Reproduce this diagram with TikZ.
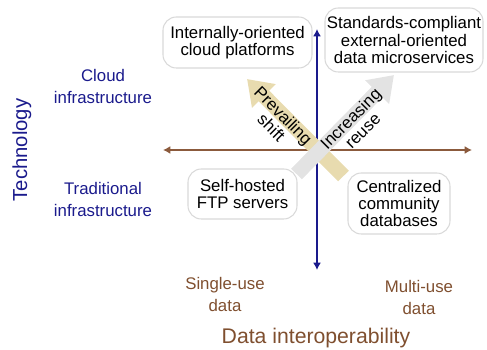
\documentclass[tikz,border=0pt]{standalone}
\usepackage{fontspec}
\setmainfont{Liberation Sans}
\usetikzlibrary{arrows.meta}

\definecolor{navyax}{HTML}{1A1A8C}
\definecolor{brownax}{HTML}{8B5A3C}
\definecolor{browntxt}{HTML}{7F4F2F}
\definecolor{tanfill}{HTML}{E8DBAF}
\definecolor{greyfill}{HTML}{E3E3E3}

\tikzset{
  quadbox/.style={draw=black!15, line width=0.8pt, fill=white, rounded corners=10pt,
    align=center, inner sep=0pt, font=\fontsize{12.6}{13}\selectfont},
  sidelabel/.style={align=center, text=navyax, font=\fontsize{12.6}{16.5}\selectfont},
  botlabel/.style={align=center, text=browntxt, font=\fontsize{12.6}{16.5}\selectfont},
  axisline/.style={line width=1.3pt, {Latex[length=5.5pt, width=6pt]}-{Latex[length=5.5pt, width=6pt]}},
  bigarrow/.style={line width=11.25pt, -{Triangle[length=18pt, width=24pt]}},
  arrowtext/.style={align=center, font=\fontsize{12.6}{12.75}\selectfont}
}

\begin{document}
\begin{tikzpicture}[x=0.75pt, y=0.75pt]
    \useasboundingbox (0,0) rectangle (487,350);
    % axes
    \coordinate (vtop) at (317,321);
    \coordinate (vbot) at (317,80);
    \coordinate (hleft) at (163,200);
    \coordinate (hright) at (472,200);
    \draw[axisline, brownax] (hleft) -- (hright);
    \draw[axisline, navyax] (vbot) -- (vtop);

    % shift arrows
    \coordinate (shifttail) at (343.5,174);
    \coordinate (shifttip) at (247,271);
    \coordinate (reusetail) at (296.5,176);
    \coordinate (reusetip) at (394,275);
    \draw[bigarrow, tanfill] (shifttail) -- (shifttip);
    \draw[bigarrow, greyfill] (reusetail) -- (reusetip);
    \node[arrowtext, rotate=-45] (shift) at (277.5,228.5) {Prevailing\\shift};
    \node[arrowtext, rotate=45] (reuse) at (356.5,225.5) {Increasing\\reuse};

    % quadrants
    \node[quadbox, minimum width=149*0.75pt, minimum height=51*0.75pt] (cloudplat) at (237.5,307.5) {Internally-oriented\\cloud platforms};
    \node[quadbox, minimum width=158*0.75pt, minimum height=64*0.75pt] (microsvc) at (404,310) {Standards-compliant\\external-oriented\\data microservices};
    \node[quadbox, minimum width=109*0.75pt, minimum height=50*0.75pt] (ftp) at (242.5,156) {Self-hosted\\FTP servers};
    \node[quadbox, minimum width=102*0.75pt, minimum height=61*0.75pt] (commdb) at (399,146.5) {Centralized\\community\\databases};

    % axis labels
    \node[sidelabel] (cloud) at (103,264) {Cloud\\infrastructure};
    \node[sidelabel] (trad) at (103,151) {Traditional\\infrastructure};
    \node[sidelabel, rotate=90, font=\fontsize{15.2}{18}\selectfont] (tech) at (22,200) {Technology};
    \node[botlabel] (single) at (225,56) {Single-use\\data};
    \node[botlabel] (multi) at (419,53) {Multi-use\\data};
    \node[botlabel, font=\fontsize{15.9}{18}\selectfont] (interop) at (316,12) {Data interoperability};
\end{tikzpicture}
\end{document}
